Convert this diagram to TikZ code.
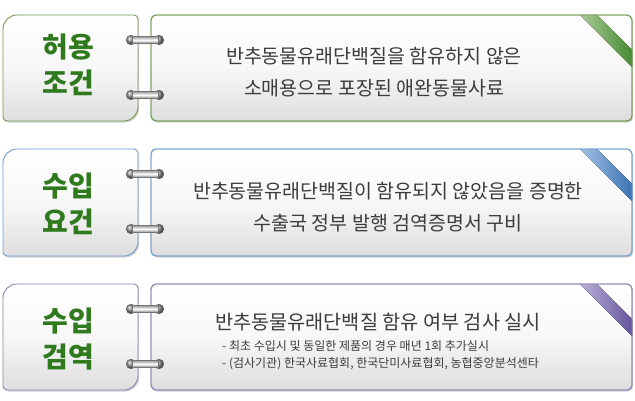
\documentclass[tikz,border=0pt]{standalone}
\usepackage{fontspec}
\newfontfamily\kr{Noto Sans CJK KR}
\usetikzlibrary{shadows}
\definecolor{titlegreen}{HTML}{2F7A1C}
\definecolor{txt}{HTML}{3C3C3C}
\definecolor{bGreen}{HTML}{6F9A4E}
\definecolor{bBlue}{HTML}{6B9CCF}
\definecolor{bPurple}{HTML}{8A80B0}
\definecolor{rGreenL}{HTML}{A8CC96}
\definecolor{rGreenD}{HTML}{2E7A1A}
\definecolor{rBlueL}{HTML}{A5C3E4}
\definecolor{rBlueD}{HTML}{1E5FA8}
\definecolor{rPurpleL}{HTML}{BDB2DA}
\definecolor{rPurpleD}{HTML}{4E3C8C}
\tikzset{
  boxfill/.style={top color=white, bottom color=black!13, middle color=white!97!black,
    drop shadow={shadow xshift=1.2pt, shadow yshift=-1.5pt, opacity=0.35}},
  title/.style={font=\kr\bfseries\fontsize{28}{36}\selectfont, text=titlegreen, align=center, inner sep=0pt},
  desc/.style={font=\kr\fontsize{19.5}{32}\selectfont, text=txt, align=center, inner sep=0pt},
  small/.style={font=\kr\fontsize{12}{16}\selectfont, text=txt, anchor=west, inner sep=0pt},
}
\newcommand\mkleftpath[2]{(3,#1+14) arc[start angle=180,end angle=270,radius=14] -- (134,#1)
  arc[start angle=270,end angle=360,radius=4] -- (138,#2-14)
  arc[start angle=0,end angle=90,radius=14] -- (7,#2)
  arc[start angle=90,end angle=180,radius=4] -- cycle}
\newcommand\mkrow[5]{% top, bottom, border, ribbon light, ribbon dark
  \path[boxfill, draw=#3, line width=0.9pt] \mkleftpath{#1}{#2};
  \path[boxfill, draw=#3, line width=0.9pt, rounded corners=5] (151,#1) rectangle (632,#2);
  \begin{scope}
    \clip[rounded corners=5] (151,#1) rectangle (632,#2);
    \fill[left color=#4, right color=#5] (580,#1) -- (597,#1) -- (645,#1+48) -- (645,#1+65) -- cycle;
  \end{scope}
  \draw[#3, line width=0.9pt, rounded corners=5] (151,#1) rectangle (632,#2);
  \mkring{#1+25}
  \mkring{#1+80}
}
\newcommand\mkring[1]{%
  \shade[ball color=black!45] (131,#1) circle[radius=4.8];
  \shade[ball color=black!45] (159,#1) circle[radius=4.8];
  \draw[black!60, line width=0.5pt] (131,#1) circle[radius=4.8] (159,#1) circle[radius=4.8];
  \draw[black!55, line width=0.6pt, top color=black!40, bottom color=black!50, middle color=white]
    (132,#1-3.5) rectangle (158,#1+3.5);
}
\begin{document}
\begin{tikzpicture}[x=1pt,y=-1pt]
\useasboundingbox (0,0) rectangle (635,400);
\mkrow{15}{121}{bGreen}{rGreenL}{rGreenD}
\mkrow{149}{256}{bBlue}{rBlueL}{rBlueD}
\mkrow{284}{390}{bPurple}{rPurpleL}{rPurpleD}
% titles
\node[title] (t1) at (68,65) {허용\\조건};
\node[title] (t2) at (68,204) {수입\\요건};
\node[title] (t3) at (68,339) {수입\\검역};
% descriptions
\node[desc] (d1) at (374,72) {반추동물유래단백질을 함유하지 않은\\소매용으로 포장된 애완동물사료};
\node[desc] (d2) at (388,207) {반추동물유래단백질이 함유되지 않았음을 증명한\\수출국 정부 발행 검역증명서 구비};
\node[desc, font=\kr\fontsize{19.7}{24}\selectfont] (d3) at (378,322) {반추동물유래단백질 함유 여부 검사 실시};
\node[small] (s1) at (222,346) {- 최초 수입시 및 동일한 제품의 경우 매년 1회 추가실시};
\node[small] (s2) at (222,364) {- (검사기관) 한국사료협회, 한국단미사료협회, 농협중앙분석센타};
\end{tikzpicture}
\end{document}
